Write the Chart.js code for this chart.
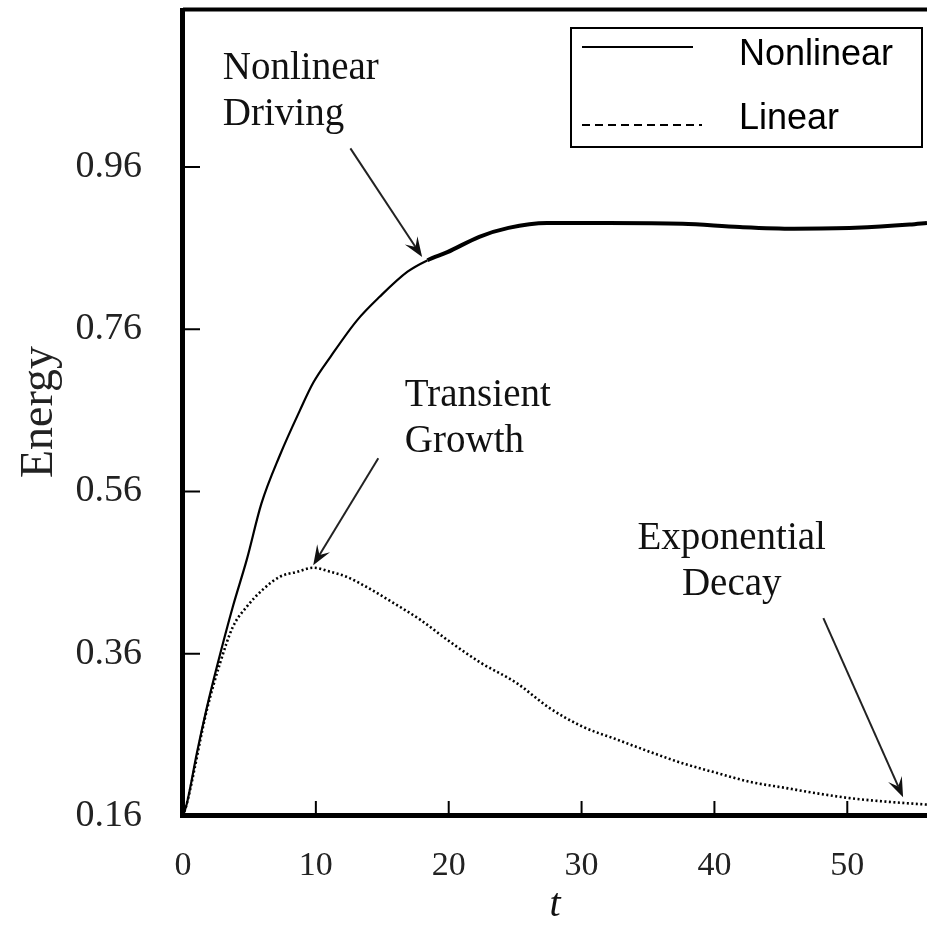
<!DOCTYPE html>
<html>
<head>
<meta charset="utf-8">
<script src="https://cdn.jsdelivr.net/npm/chart.js@4/dist/chart.umd.min.js"></script>
<style>
  html, body { margin: 0; padding: 0; background: #fff; }
</style>
</head>
<body>
<canvas id="chart" width="927" height="929"></canvas>
<script>
// values (t, energy)
const nonlinearT = [0, 0.3, 1.05, 1.8, 2.55, 3.75, 4.8, 5.9, 7.3, 8.8, 9.8, 11.1, 13.1, 14.8, 16.9, 18.4, 19.9, 22.3, 24.5, 27.4, 32, 37.6, 41.9, 46, 50.6, 54.7, 56];
const nonlinearE = [0.16, 0.176, 0.238, 0.294, 0.344, 0.418, 0.476, 0.545, 0.605, 0.660, 0.694, 0.726, 0.771, 0.800, 0.831, 0.845, 0.855, 0.874, 0.885, 0.891, 0.891, 0.890, 0.886, 0.884, 0.885, 0.889, 0.891];

const linearT = [0, 0.3, 1.8, 2.8, 3.75, 4.8, 6.0, 7.3, 8.6, 9.8, 11.1, 12.3, 13.85, 15.8, 17.85, 19.9, 22.4, 25.1, 27.6, 30.1, 32.7, 35.15, 37.6, 40.2, 42.7, 45.2, 47.7, 50.2, 52.7, 56];
const linearE = [0.16, 0.176, 0.291, 0.349, 0.393, 0.418, 0.439, 0.455, 0.461, 0.466, 0.461, 0.455, 0.442, 0.423, 0.402, 0.377, 0.349, 0.324, 0.293, 0.270, 0.254, 0.239, 0.225, 0.213, 0.202, 0.195, 0.188, 0.182, 0.178, 0.174];

const seriesNames = ['Nonlinear', 'Linear'];
const xTicks = [0, 10, 20, 30, 40, 50];
const xTickLabels = ['0', '10', '20', '30', '40', '50'];
const yTicks = [0.16, 0.36, 0.56, 0.76, 0.96];
const yTickLabels = ['0.16', '0.36', '0.56', '0.76', '0.96'];

// callouts, anchored in data units
const notes = [
  { lines: ['Nonlinear', 'Driving'], t: 3.0, e: 1.068, align: 'left', from: [12.6, 0.983], to: [18.0, 0.849] },
  { lines: ['Transient', 'Growth'], t: 16.7, e: 0.665, align: 'left', from: [14.7, 0.601], to: [9.8, 0.469] },
  { lines: ['Exponential', 'Decay'], t: 41.3, e: 0.489, align: 'center', from: [48.2, 0.404], to: [54.2, 0.183] }
];

const SERIF = '"Liberation Serif", "Times New Roman", serif';
const SANS = '"Liberation Sans", Arial, sans-serif';

function pts(ts, es) {
  return ts.map((t, i) => ({ x: t, y: es[i] }));
}

function arrow(ctx, x0, y0, x1, y1) {
  const ang = Math.atan2(y1 - y0, x1 - x0);
  const c = Math.cos(ang), s = Math.sin(ang);
  const len = 20, half = 7.5;
  ctx.beginPath();
  ctx.moveTo(x0, y0);
  ctx.lineTo(x1 - c * len * 0.6, y1 - s * len * 0.6);
  ctx.stroke();
  ctx.beginPath();
  ctx.moveTo(x1, y1);
  ctx.lineTo(x1 - c * len + s * half, y1 - s * len - c * half);
  ctx.lineTo(x1 - c * len * 0.6, y1 - s * len * 0.6);
  ctx.lineTo(x1 - c * len - s * half, y1 - s * len + c * half);
  ctx.closePath();
  ctx.fill();
}

const framePlugin = {
  id: 'frame',
  afterDraw(chart) {
    const { ctx, chartArea: a, scales: { x, y } } = chart;
    ctx.save();
    ctx.strokeStyle = '#000';
    ctx.fillStyle = '#000';

    // box: top, left, bottom (right edge runs off the picture)
    ctx.lineWidth = 4;
    ctx.beginPath();
    ctx.moveTo(a.left, a.top + 1.5);
    ctx.lineTo(a.right, a.top + 1.5);
    ctx.stroke();
    ctx.lineWidth = 5;
    ctx.beginPath();
    ctx.moveTo(a.left - 0.5, a.top);
    ctx.lineTo(a.left - 0.5, a.bottom - 0.5);
    ctx.lineTo(a.right, a.bottom - 0.5);
    ctx.stroke();

    // inward tick marks
    ctx.lineWidth = 2;
    yTicks.slice(1).forEach(v => {
      const py = y.getPixelForValue(v);
      ctx.beginPath();
      ctx.moveTo(a.left, py);
      ctx.lineTo(a.left + 17, py);
      ctx.stroke();
    });
    xTicks.slice(1).forEach(v => {
      const px = x.getPixelForValue(v);
      ctx.beginPath();
      ctx.moveTo(px, a.bottom);
      ctx.lineTo(px, a.bottom - 15);
      ctx.stroke();
    });

    // callouts
    ctx.font = '39px ' + SERIF;
    ctx.textBaseline = 'alphabetic';
    notes.forEach(n => {
      const px = x.getPixelForValue(n.t);
      const py = y.getPixelForValue(n.e);
      ctx.fillStyle = '#111';
      ctx.textAlign = n.align;
      n.lines.forEach((s, i) => ctx.fillText(s, px, py + i * 46));
      ctx.strokeStyle = '#222';
      ctx.lineWidth = 2;
      arrow(ctx,
        x.getPixelForValue(n.from[0]), y.getPixelForValue(n.from[1]),
        x.getPixelForValue(n.to[0]), y.getPixelForValue(n.to[1]));
    });

    // legend box
    const L = { left: 571, top: 28, right: 922, bottom: 147 };
    ctx.fillStyle = '#fff';
    ctx.fillRect(L.left, L.top, L.right - L.left, L.bottom - L.top);
    ctx.strokeStyle = '#000';
    ctx.lineWidth = 2;
    ctx.strokeRect(L.left, L.top, L.right - L.left, L.bottom - L.top);

    const rows = [
      { lineY: 47, textY: 55, dash: [], x1: 693 },
      { lineY: 125, textY: 119, dash: [8, 5], x1: 702 }
    ];
    ctx.font = '36px ' + SANS;
    ctx.textAlign = 'left';
    ctx.textBaseline = 'middle';
    chart.data.datasets.forEach((ds, i) => {
      const r = rows[i];
      ctx.setLineDash(r.dash);
      ctx.lineWidth = 2;
      ctx.beginPath();
      ctx.moveTo(582, r.lineY);
      ctx.lineTo(r.x1, r.lineY);
      ctx.stroke();
      ctx.setLineDash([]);
      ctx.fillStyle = '#000';
      ctx.fillText(ds.label, 739, r.textY);
    });
    ctx.restore();
  }
};

const ctx = document.getElementById('chart').getContext('2d');

new Chart(ctx, {
  type: 'line',
  data: {
    datasets: [
      {
        label: seriesNames[0],
        data: pts(nonlinearT, nonlinearE),
        borderColor: '#000',
        borderWidth: 2,
        pointRadius: 0,
        cubicInterpolationMode: 'monotone',
        segment: {
          borderWidth: c => (c.p0.parsed.x >= 17 ? 4 : 2.2)
        }
      },
      {
        label: seriesNames[1],
        data: pts(linearT, linearE),
        borderColor: '#000',
        borderWidth: 2.6,
        borderDash: [2, 2.5],
        pointRadius: 0,
        cubicInterpolationMode: 'monotone'
      }
    ]
  },
  options: {
    responsive: false,
    animation: false,
    layout: { padding: { top: 8, right: 0, bottom: 0, left: 0 } },
    plugins: {
      legend: { display: false },
      tooltip: { enabled: false }
    },
    scales: {
      x: {
        type: 'linear',
        min: 0,
        max: 56,
        grid: { display: false },
        border: { display: false },
        afterBuildTicks: s => { s.ticks = xTicks.map(v => ({ value: v })); },
        afterFit: s => { s.height = 113; s.paddingLeft = 0; s.paddingRight = 0; },
        ticks: {
          padding: 22,
          color: '#222',
          font: { family: SERIF, size: 34 },
          callback: v => xTickLabels[xTicks.indexOf(v)]
        },
        title: {
          display: true,
          text: 't',
          color: '#111',
          padding: { top: 0, bottom: 0 },
          font: { family: SERIF, size: 40, style: 'italic' }
        }
      },
      y: {
        type: 'linear',
        min: 0.16,
        max: 1.156,
        grid: { display: false },
        border: { display: false },
        afterBuildTicks: s => { s.ticks = yTicks.map(v => ({ value: v })); },
        afterFit: s => { s.width = 183; s.paddingTop = 0; s.paddingBottom = 0; },
        ticks: {
          padding: 33,
          color: '#222',
          font: { family: SERIF, size: 38 },
          callback: v => yTickLabels[yTicks.indexOf(v)]
        },
        title: {
          display: true,
          text: 'Energy',
          color: '#222',
          padding: { top: 12, bottom: 0 },
          font: { family: SERIF, size: 46 }
        }
      }
    }
  },
  plugins: [framePlugin]
});
</script>
</body>
</html>
